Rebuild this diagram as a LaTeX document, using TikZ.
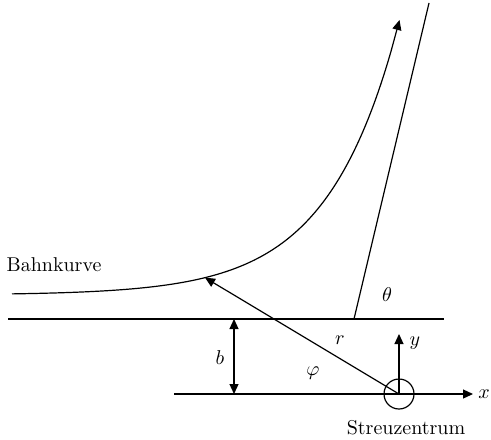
\documentclass[tikz,border=0pt]{standalone}
\usetikzlibrary{arrows.meta}
\begin{document}
\begin{tikzpicture}[x=0.5pt,y=-0.5pt,
  line/.style={line width=0.6pt},
  tip/.style={-{Triangle[length=5pt,width=4.5pt]}},
  bothtips/.style={{Triangle[length=5pt,width=4.5pt]}-{Triangle[length=5pt,width=4.5pt]}},
  lbl/.style={inner sep=0pt, font=\fontsize{10}{12}\selectfont}]
\useasboundingbox (0,0) rectangle (491,439);
\coordinate (L1a) at (8,319);
\coordinate (L1b) at (444,319);
\coordinate (O) at (399,394);
\coordinate (Xa) at (174,394);
\coordinate (Xb) at (473,394);
\coordinate (Yb) at (399,334);
\coordinate (Ba) at (234,319);
\coordinate (Bb) at (234,394);
\coordinate (P) at (205,{295-0.943*exp(0.0142*205)});
\coordinate (Aa) at (354,319);
\coordinate (Ab) at (429,3);
\coordinate (KG) at (399.5,20);
\draw[line] (L1a) -- (L1b);
\draw[line,tip] (Xa) -- (Xb);
\draw[line,tip] (O) -- (Yb);
\draw[line,bothtips] (Ba) -- (Bb);
\draw[line,tip] (O) -- (P);
\draw[line] (Aa) -- (Ab);
\node[circle,draw,line width=0.6pt,minimum size=15pt,inner sep=0pt] (C) at (O) {};
\draw[line,tip] plot[domain=12:391,samples=120,smooth] (\x,{295-0.943*exp(0.0142*\x)}) -- (KG);
\node[lbl] (bahn) at (54,265) {Bahnkurve};
\node[lbl] (streu) at (406,428) {Streuzentrum};
\node[lbl] (xl) at (484,394) {$x$};
\node[lbl] (yl) at (415,343) {$y$};
\node[lbl] (bl) at (220,358) {$b$};
\node[lbl] (phil) at (313,373) {$\varphi$};
\node[lbl] (rl) at (340,340) {$r$};
\node[lbl] (thl) at (387,295) {$\theta$};
\end{tikzpicture}
\end{document}
